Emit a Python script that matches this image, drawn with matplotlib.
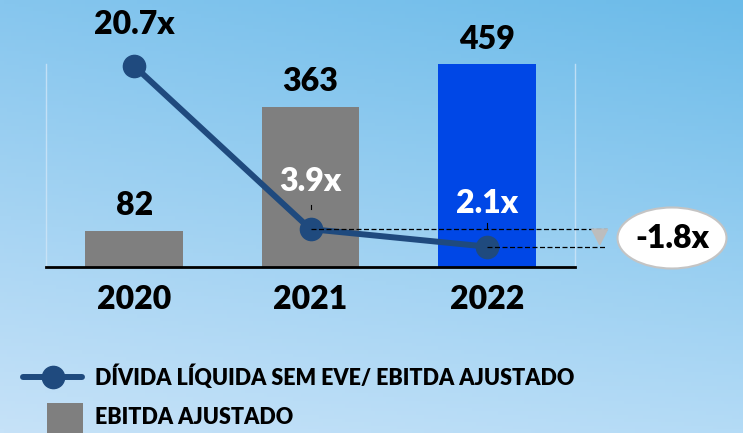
import numpy as np
import matplotlib
matplotlib.use("Agg")
import matplotlib.pyplot as plt
from matplotlib.patches import Ellipse, Polygon, Rectangle
from matplotlib.lines import Line2D

plt.rcParams['font.family'] = ['Lato', 'DejaVu Sans']
plt.rcParams['font.weight'] = 'heavy'

# data
years = ['2020', '2021', '2022']
ebitda = [82, 363, 459]
ebitda_labels = ['82', '363', '459']
leverage = [20.7, 3.9, 2.1]
leverage_labels = ['20.7x', '3.9x', '2.1x']
delta_label = '-1.8x'
legend_line = 'DÍVIDA LÍQUIDA SEM EVE/ EBITDA AJUSTADO'
legend_bar = 'EBITDA AJUSTADO'

W, H = 743, 433
fig = plt.figure(figsize=(W / 100, H / 100), dpi=100)
BIG = 23
WT = 'heavy'

# background gradient
bg = fig.add_axes([0, 0, 1, 1], zorder=-10)
tl = np.array([134, 198, 238]) / 255
tr = np.array([107, 187, 233]) / 255
bl = np.array([198, 226, 248]) / 255
br = np.array([180, 219, 246]) / 255
u = np.linspace(0, 1, 200)[None, :, None]
v = np.linspace(0, 1, 120)[:, None, None]
grad = (1 - v) * ((1 - u) * tl + u * tr) + v * ((1 - u) * bl + u * br)
bg.imshow(grad, aspect='auto', extent=[0, 1, 0, 1], origin='upper')
bg.axis('off')

# main axes: pixel box x 46..575, y 0..267
ax = fig.add_axes([46 / W, (H - 267) / H, (575 - 46) / W, 267 / H])
ax.patch.set_alpha(0)
x = np.arange(len(years))
bar_colors = ['#7f7f7f', '#7f7f7f', '#0047e6']
ax.bar(x, ebitda, width=0.555, color=bar_colors, zorder=2)
ax.set_xlim(-0.5, 2.5)
ax.set_ylim(0, 604)
for xi, val, lab in zip(x, ebitda, ebitda_labels):
    ax.annotate(lab, (xi, val), xytext=(0, 18), textcoords='offset points',
                ha='center', va='center', fontsize=BIG, fontweight=WT, color='black')
ax.set_xticks(x)
ax.set_xticklabels(years, fontsize=BIG, fontweight=WT)
ax.tick_params(axis='x', length=0, pad=13)
ax.set_yticks([])
for s in ['top', 'left', 'right']:
    ax.spines[s].set_visible(False)
ax.spines['bottom'].set_linewidth(2)
ax.spines['bottom'].set_color('black')
# faint plot-area edges
for xe in [-0.5, 2.5]:
    ax.plot([xe, xe], [0, 459], color='#cfe6f8', lw=1, alpha=0.8, zorder=1, clip_on=False)

ax2 = ax.twinx()
ax2.set_ylim(0, 27.5)
ax2.set_yticks([])
for s in ax2.spines.values():
    s.set_visible(False)
navy = '#1f4a7e'
ax2.plot(x, leverage, color=navy, lw=4.3, marker='o', markersize=16, zorder=5,
         solid_capstyle='round')
label_colors = ['black', 'white', 'white']
label_offsets = [30, 34, 31]
for xi, val, lab, c, off in zip(x, leverage, leverage_labels, label_colors, label_offsets):
    ax2.annotate(lab, (xi, val), xytext=(0, off), textcoords='offset points',
                 ha='center', va='center', fontsize=BIG, fontweight=WT, color=c, zorder=6)

# small leader ticks
ax2.plot([1, 1], [6.0, 6.4], color='black', lw=0.8, zorder=6)
ax2.plot([2, 2], [3.9, 4.5], color='black', lw=0.8, zorder=6)

# dashed reference lines and arrow
x_end = 2.68
ax2.plot([1, x_end], [leverage[1], leverage[1]], color='black', lw=0.9,
         ls=(0, (4, 2)), zorder=6, clip_on=False)
ax2.plot([2, x_end], [leverage[2], leverage[2]], color='black', lw=0.9,
         ls=(0, (4, 2)), zorder=6, clip_on=False)
tri = Polygon([[2.595, leverage[1]], [2.685, leverage[1]], [2.64, leverage[2] + 0.2]],
              closed=True, color='#bdbdbd', clip_on=False, zorder=6)
ax2.add_patch(tri)

# delta bubble
ell = Ellipse((672 / W, 1 - 238 / H), 109 / W, 61 / H, transform=fig.transFigure,
              facecolor='white', edgecolor='#c4c4c4', lw=1.5, zorder=10)
fig.patches.append(ell)
fig.text(672 / W, 1 - 238 / H, delta_label, ha='center', va='center',
         fontsize=BIG, fontweight=WT, color='black', zorder=11)

# legend drawn by hand
fig.lines.append(Line2D([23 / W, 82 / W], [1 - 377 / H, 1 - 377 / H], transform=fig.transFigure,
                        color=navy, lw=4.3, solid_capstyle='round'))
fig.lines.append(Line2D([53 / W], [1 - 377 / H], transform=fig.transFigure, color=navy,
                        marker='o', markersize=16))
fig.text(95 / W, 1 - 377 / H, legend_line, ha='left', va='center', fontsize=15.5,
         fontweight=WT, color='black')
fig.patches.append(Rectangle((47 / W, 0), 36 / W, 30 / H, transform=fig.transFigure,
                             facecolor='#7f7f7f', edgecolor='none'))
fig.text(95 / W, 1 - 418 / H, legend_bar, ha='left', va='center', fontsize=15.5,
         fontweight=WT, color='black')

fig.savefig('out.png', dpi=100)
